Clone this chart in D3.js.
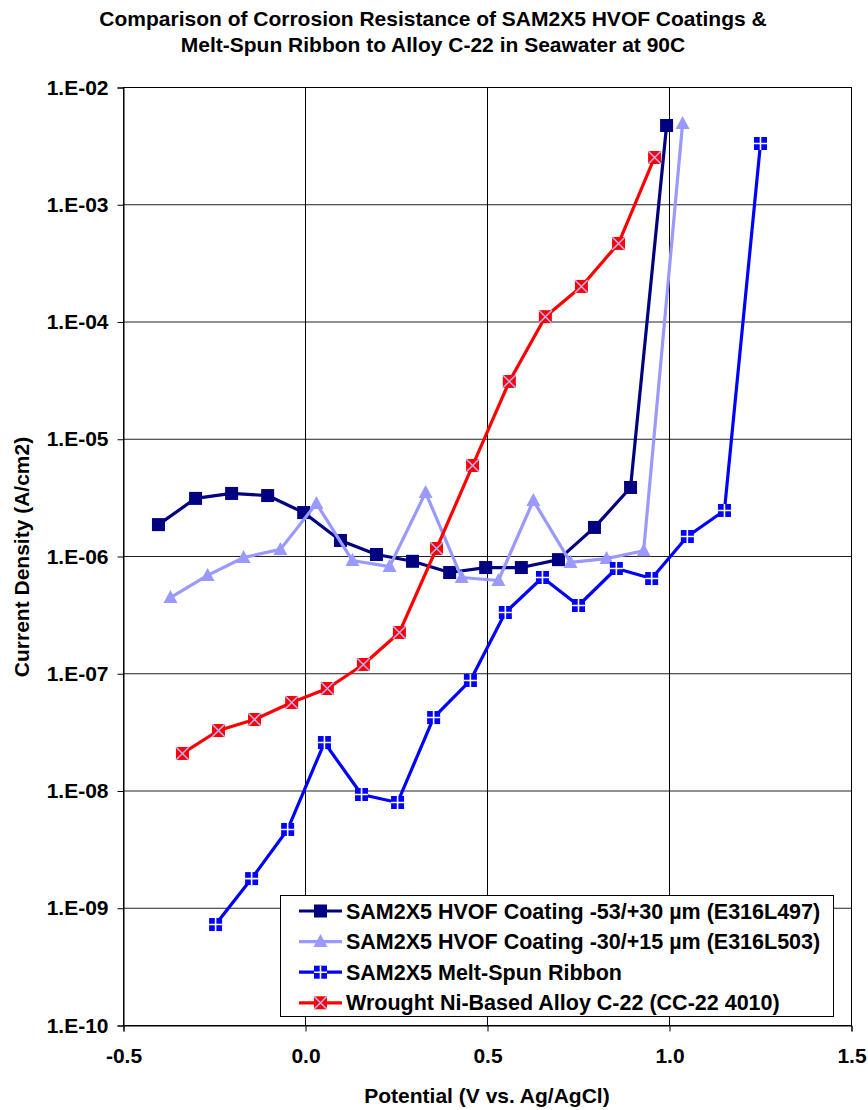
<!DOCTYPE html>
<html>
<head>
<meta charset="utf-8">
<script src="https://cdn.jsdelivr.net/npm/d3@7"></script>
<style>
  html, body { margin: 0; padding: 0; background: #fff; }
  svg { display: block; }
  text { font-family: "Liberation Sans", Arial, sans-serif; font-weight: bold; fill: #000; }
</style>
</head>
<body>
<script>
// ---- Data: potential (V vs. Ag/AgCl) and current density (A/cm2) ----
const coarseX = [-0.404, -0.302, -0.203, -0.104, -0.005, 0.096, 0.195, 0.294, 0.396, 0.495, 0.593, 0.695, 0.794, 0.893, 0.992];
const coarseY = [1.87e-6, 3.13e-6, 3.45e-6, 3.31e-6, 2.37e-6, 1.37e-6, 1.04e-6, 9.1e-7, 7.3e-7, 8.05e-7, 8.05e-7, 9.4e-7, 1.77e-6, 3.88e-6, 4.74e-3];

const fineX = [-0.371, -0.269, -0.170, -0.069, 0.030, 0.129, 0.231, 0.330, 0.429, 0.530, 0.626, 0.728, 0.827, 0.929, 1.036];
const fineY = [4.47e-7, 6.9e-7, 9.8e-7, 1.15e-6, 2.83e-6, 9.24e-7, 8.2e-7, 3.51e-6, 6.62e-7, 6.24e-7, 3.0e-6, 8.9e-7, 9.6e-7, 1.12e-6, 4.93e-3];

const ribbonX = [-0.247, -0.148, -0.049, 0.052, 0.154, 0.253, 0.352, 0.453, 0.549, 0.651, 0.750, 0.854, 0.951, 1.049, 1.151, 1.250];
const ribbonY = [7.26e-10, 1.79e-9, 4.70e-9, 2.59e-8, 9.33e-9, 7.98e-9, 4.23e-8, 8.76e-8, 3.33e-7, 6.62e-7, 3.82e-7, 7.9e-7, 6.49e-7, 1.48e-6, 2.47e-6, 3.33e-3];

const alloyX = [-0.338, -0.239, -0.140, -0.038, 0.060, 0.159, 0.258, 0.360, 0.459, 0.560, 0.659, 0.758, 0.860, 0.959];
const alloyY = [2.09e-8, 3.28e-8, 4.07e-8, 5.69e-8, 7.48e-8, 1.2e-7, 2.25e-7, 1.17e-6, 5.97e-6, 3.11e-5, 1.11e-4, 2.01e-4, 4.68e-4, 2.53e-3];

const seriesNames = [
  "SAM2X5 HVOF Coating -53/+30 \u00b5m (E316L497)",
  "SAM2X5 HVOF Coating -30/+15 \u00b5m (E316L503)",
  "SAM2X5 Melt-Spun Ribbon",
  "Wrought Ni-Based Alloy C-22 (CC-22 4010)"
];

const xTickValues = [-0.5, 0, 0.5, 1.0, 1.5];
const xTickLabels = ["-0.5", "0.0", "0.5", "1.0", "1.5"];
const yTickValues = [1e-2, 1e-3, 1e-4, 1e-5, 1e-6, 1e-7, 1e-8, 1e-9, 1e-10];
const yTickLabels = ["1.E-02", "1.E-03", "1.E-04", "1.E-05", "1.E-06", "1.E-07", "1.E-08", "1.E-09", "1.E-10"];

const titleLines = [
  "Comparison of Corrosion Resistance of SAM2X5 HVOF Coatings &",
  "Melt-Spun Ribbon to Alloy C-22 in Seawater at 90C"
];
const xTitle = "Potential (V vs. Ag/AgCl)";
const yTitle = "Current Density (A/cm2)";

// ---- Layout ----
const W = 868, H = 1110;
const plot = { left: 123.5, top: 87.5, right: 851.5, bottom: 1025.5 };
const FONT = 21;

const svg = d3.select("body").append("svg").attr("width", W).attr("height", H);

const x = d3.scaleLinear().domain([-0.5, 1.5]).range([plot.left, plot.right]);
const y = d3.scaleLog().domain([1e-10, 1e-2]).range([plot.bottom, plot.top]);

// Title
svg.append("g").selectAll("text").data(titleLines).join("text")
  .attr("x", 433).attr("y", (d, i) => 26 + i * 26)
  .attr("text-anchor", "middle").style("font-size", "21px")
  .text(d => d);

// Gridlines
const grid = svg.append("g");
grid.selectAll("line.h").data(yTickValues.slice(1, -1)).join("line")
  .attr("x1", plot.left).attr("x2", plot.right)
  .attr("y1", d => y(d)).attr("y2", d => y(d))
  .attr("stroke", "#222").attr("stroke-width", 1);
grid.selectAll("line.v").data(xTickValues.slice(1, -1)).join("line")
  .attr("y1", plot.top).attr("y2", plot.bottom)
  .attr("x1", d => x(d)).attr("x2", d => x(d))
  .attr("stroke", "#000").attr("stroke-width", 1);

// Plot frame
svg.append("rect")
  .attr("x", plot.left).attr("y", plot.top)
  .attr("width", plot.right - plot.left).attr("height", plot.bottom - plot.top)
  .attr("fill", "none").attr("stroke", "#000").attr("stroke-width", 1);

// Axes
const yAxis = svg.append("g").attr("transform", `translate(${plot.left},0)`)
  .call(d3.axisLeft(y).tickValues(yTickValues).tickFormat((d, i) => yTickLabels[i]).tickSize(6).tickPadding(9));
const xAxis = svg.append("g").attr("transform", `translate(0,${plot.bottom})`)
  .call(d3.axisBottom(x).tickValues(xTickValues).tickFormat((d, i) => xTickLabels[i]).tickSize(6).tickPadding(17));
[yAxis, xAxis].forEach(g => {
  g.select(".domain").attr("stroke", "#000");
  g.selectAll(".tick line").attr("stroke", "#000");
  g.selectAll("text").style("font-size", FONT + "px").style("font-family", '"Liberation Sans", Arial, sans-serif').style("font-weight", "bold").attr("fill", "#000");
});

// Axis titles
svg.append("text").attr("x", 487).attr("y", 1103).attr("text-anchor", "middle")
  .style("font-size", FONT + "px").text(xTitle);
svg.append("text").attr("transform", "translate(29,557) rotate(-90)").attr("text-anchor", "middle")
  .style("font-size", FONT + "px").text(yTitle);

// ---- Marker drawing ----
function markSquare(g, color) {
  g.append("rect").attr("x", -6.5).attr("y", -6.5).attr("width", 13).attr("height", 13).attr("fill", color);
}
function markTriangle(g, color) {
  g.append("path").attr("d", "M0,-7.5L7,5.5L-7,5.5Z").attr("fill", color);
}
function markCrossSquare(g, color) {
  g.append("rect").attr("x", -6.5).attr("y", -6.5).attr("width", 13).attr("height", 13).attr("fill", color);
  g.append("path").attr("d", "M0,-6.5V6.5M-6.5,0H6.5").attr("stroke", "#fff").attr("stroke-width", 1.6);
}
function markXSquare(g, color) {
  g.append("rect").attr("x", -6.5).attr("y", -6.5).attr("width", 13).attr("height", 13).attr("fill", color);
  g.append("path").attr("d", "M-6.5,-6.5L6.5,6.5M6.5,-6.5L-6.5,6.5").attr("stroke", "#b4b4ff").attr("stroke-width", 1.5);
}

const series = [
  { name: seriesNames[0], xs: coarseX, ys: coarseY, color: "#000080", marker: markSquare },
  { name: seriesNames[1], xs: fineX, ys: fineY, color: "#9999ff", marker: markTriangle },
  { name: seriesNames[2], xs: ribbonX, ys: ribbonY, color: "#0000ff", marker: markCrossSquare },
  { name: seriesNames[3], xs: alloyX, ys: alloyY, color: "#ff0000", marker: markXSquare }
];

const line = d3.line().x(d => x(d[0])).y(d => y(d[1]));

series.forEach(s => {
  const pts = s.xs.map((v, i) => [v, s.ys[i]]);
  const g = svg.append("g");
  g.append("path").datum(pts).attr("d", line)
    .attr("fill", "none").attr("stroke", s.color).attr("stroke-width", 3.2)
    .attr("stroke-linejoin", "round");
  g.selectAll("g.m").data(pts).join("g")
    .attr("transform", d => `translate(${x(d[0])},${y(d[1])})`)
    .each(function () { s.marker(d3.select(this), s.color); });
});

// ---- Legend ----
const legend = svg.append("g");
legend.append("rect").attr("x", 280.5).attr("y", 895.5).attr("width", 553).attr("height", 121)
  .attr("fill", "#fff").attr("stroke", "#000").attr("stroke-width", 1);
series.forEach((s, i) => {
  const cy = 911 + i * 30.6;
  const row = legend.append("g").attr("transform", `translate(0,${cy})`);
  row.append("line").attr("x1", 299).attr("x2", 342).attr("y1", 0).attr("y2", 0)
    .attr("stroke", s.color).attr("stroke-width", 3.2);
  s.marker(row.append("g").attr("transform", "translate(320.5,0)"), s.color);
  row.append("text").attr("x", 346).attr("y", 7.5).style("font-size", "21.5px").text(s.name);
});
</script>
</body>
</html>
